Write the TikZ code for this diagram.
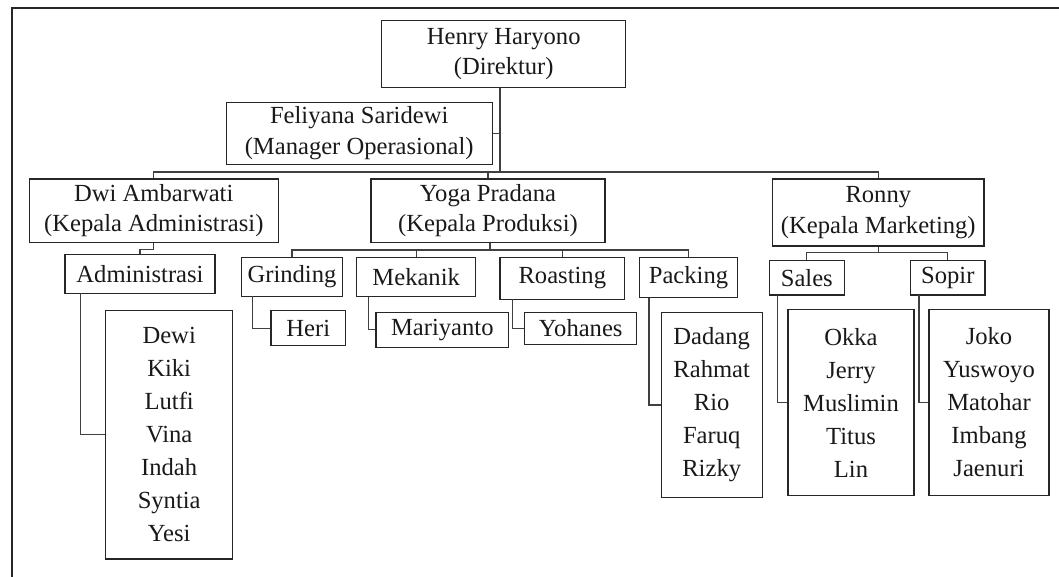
\documentclass[tikz,border=0pt]{standalone}
\usepackage{fontspec}
\setmainfont{Liberation Serif}
\begin{document}
\begin{tikzpicture}[x=1pt,y=-1pt,
  box/.style={draw=black!85,line width=1.1pt,inner sep=0pt,align=center,text=black!90,
    font=\fontsize{24.6}{30.5}\selectfont},
  listbox/.style={box,font=\fontsize{24.6}{33}\selectfont},
  conn/.style={draw=black!75,line width=1.2pt},
  frame/.style={draw=black!85,line width=2pt}]
\useasboundingbox (0,0) rectangle (1059,577);
% frame
\coordinate (fbl) at (12,577);
\coordinate (ftl) at (12,8.5);
\coordinate (ftr) at (1059,8.5);
\draw[frame] (fbl) -- (ftl) -- (ftr);
% boxes
\node[box,minimum width=244pt,minimum height=66.7pt] (henry) at (503.7,54.3) {Henry Haryono\\(Direktur)};
\node[box,minimum width=266.3pt,minimum height=62pt] (feli) at (359.2,133.3) {Feliyana Saridewi\\(Manager Operasional)};
\node[box,minimum width=249pt,minimum height=63.3pt] (dwi) at (153.8,210.7) {Dwi Ambarwati\\(Kepala Administrasi)};
\node[box,minimum width=234pt,minimum height=63.3pt] (yoga) at (488,210.7) {Yoga Pradana\\(Kepala Produksi)};
\node[box,minimum width=211.3pt,minimum height=67pt] (ronny) at (878.3,212.5) {Ronny\\(Kepala Marketing)};
\node[box,minimum width=150pt,minimum height=39pt] (adm) at (140,273.8) {Administrasi};
\node[listbox,minimum width=127pt,minimum height=248.3pt] (admlist) at (169.2,434.8) {Dewi\\Kiki\\Lutfi\\Vina\\Indah\\Syntia\\Yesi};
\node[box,minimum width=100.7pt,minimum height=38.7pt] (grind) at (292,276.7) {Grinding};
\node[box,minimum width=74.7pt,minimum height=35pt] (heri) at (308.3,328.2) {Heri};
\node[box,minimum width=119pt,minimum height=39.4pt] (mek) at (416.2,277) {Mekanik};
\node[box,minimum width=132.7pt,minimum height=35pt] (mari) at (442.3,329.8) {Mariyanto};
\node[box,minimum width=124.7pt,minimum height=42pt] (roast) at (562.3,278.3) {Roasting};
\node[box,minimum width=112pt,minimum height=32pt] (yoh) at (580.7,328.3) {Yohanes};
\node[box,minimum width=98.4pt,minimum height=40.4pt] (pack) at (688.5,277.5) {Packing};
\node[listbox,minimum width=101.3pt,minimum height=185.4pt] (packlist) at (711.7,405) {Dadang\\Rahmat\\Rio\\Faruq\\Rizky};
\node[box,minimum width=75pt,minimum height=34.3pt] (sales) at (806.8,277.8) {Sales};
\node[box,minimum width=74.3pt,minimum height=34.3pt] (sopir) at (947.8,277.8) {Sopir};
\node[listbox,minimum width=126pt,minimum height=186.4pt] (saleslist) at (851,402.5) {Okka\\Jerry\\Muslimin\\Titus\\Lin};
\node[listbox,minimum width=120pt,minimum height=186.4pt] (sopirlist) at (989,402.5) {Joko\\Yuswoyo\\Matohar\\Imbang\\Jaenuri};
% top trunk
\coordinate (trunkTop) at (500,87.7);
\coordinate (bus) at (500,172);
\draw[conn] (trunkTop) -- (bus);
\draw[conn] (feli.east) -- (feli.east -| bus);
\draw[conn] (dwi.north) -- (dwi.north |- bus) -- (ronny.north |- bus) -- (ronny.north);
\draw[conn] (yoga.north) -- (yoga.north |- bus);
% administration
\coordinate (dwiStep) at (153.8,249.3);
\draw[conn] (dwi.south) -- (dwiStep) -- (dwiStep -| adm.north) -- (adm.north);
\coordinate (admX) at (80.7,293.3);
\draw[conn] (admX) -- (admX |- admlist.west) -- (admlist.west);
% production
\coordinate (pbus) at (490,250);
\draw[conn] (yoga.south -| pbus) -- (pbus);
\draw[conn] (grind.north) -- (grind.north |- pbus) -- (pack.north |- pbus) -- (pack.north);
\draw[conn] (mek.north) -- (mek.north |- pbus);
\draw[conn] (roast.north) -- (roast.north |- pbus);
\coordinate (gX) at (252.3,296);
\draw[conn] (gX) -- (gX |- heri.west) -- (heri.west);
\coordinate (mX) at (368.3,296.7);
\draw[conn] (mX) -- (mX |- mari.west) -- (mari.west);
\coordinate (rX) at (512.7,299.3);
\draw[conn] (rX) -- (rX |- yoh.west) -- (yoh.west);
\coordinate (pX) at (649,297.7);
\draw[conn] (pX) -- (pX |- packlist.west) -- (packlist.west);
% marketing
\coordinate (mbus) at (878.3,252.3);
\draw[conn] (ronny.south) -- (mbus);
\draw[conn] (sales.north) -- (sales.north |- mbus) -- (sopir.north |- mbus) -- (sopir.north);
\coordinate (sX) at (777.7,295);
\draw[conn] (sX) -- (sX |- saleslist.west) -- (saleslist.west);
\coordinate (oX) at (919,295);
\draw[conn] (oX) -- (oX |- sopirlist.west) -- (sopirlist.west);
\end{tikzpicture}
\end{document}
